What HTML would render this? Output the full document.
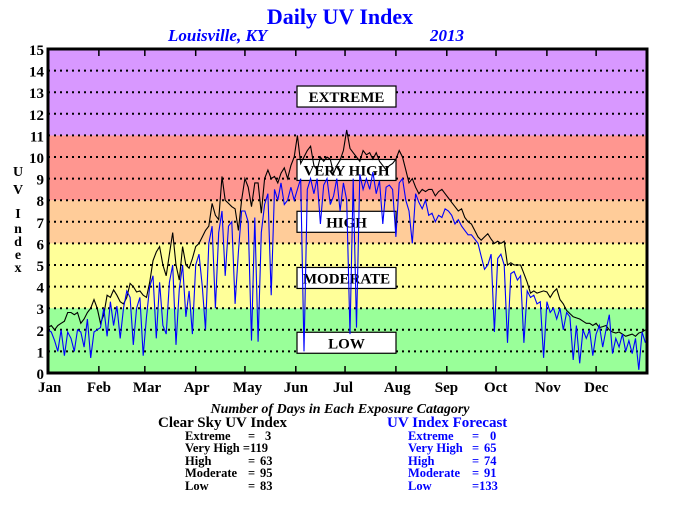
<!DOCTYPE html>
<html><head><meta charset="utf-8"><style>
body{margin:0;background:#fff;}
svg text{font-family:"Liberation Serif",serif;font-weight:bold;}
</style></head><body>
<svg width="680" height="500" viewBox="0 0 680 500" xmlns="http://www.w3.org/2000/svg">
<text x="340" y="24" text-anchor="middle" font-size="22" fill="#0000ff">Daily UV Index</text>
<text x="168" y="41" font-size="17" font-style="italic" fill="#0000ff">Louisville, KY</text>
<text x="430" y="41" font-size="17" font-style="italic" fill="#0000ff">2013</text>
<g id="bands"></g>
<g id="grid"></g>
<g id="boxes"></g>
<g id="series"></g>
<g id="axes"></g>
<g font-size="14">
<text x="18" y="176" text-anchor="middle">U</text>
<text x="18" y="194" text-anchor="middle">V</text>
<text x="18" y="218" text-anchor="middle">I</text>
<text x="18" y="233" text-anchor="middle">n</text>
<text x="18" y="246" text-anchor="middle">d</text>
<text x="18" y="259" text-anchor="middle">e</text>
<text x="18" y="272" text-anchor="middle">x</text>
</g>
<text x="340" y="413" text-anchor="middle" font-size="14" font-style="italic">Number of Days in Each Exposure Catagory</text>
<g>
<text x="158" y="427" font-size="15">Clear Sky UV Index</text>
<g font-size="12.5">
<text x="185" y="440">Extreme</text><text x="248" y="440">=</text><text x="265" y="440">3</text>
<text x="185" y="452">Very High =119</text>
<text x="185" y="465">High</text><text x="248" y="465">=</text><text x="260" y="465">63</text>
<text x="185" y="477">Moderate</text><text x="248" y="477">=</text><text x="260" y="477">95</text>
<text x="185" y="490">Low</text><text x="248" y="490">=</text><text x="260" y="490">83</text>
</g></g>
<g fill="#0000ff">
<text x="387" y="427" font-size="15">UV Index Forecast</text>
<g font-size="12.5">
<text x="408" y="440">Extreme</text><text x="472" y="440">=</text><text x="490" y="440">0</text>
<text x="408" y="452">Very High</text><text x="472" y="452">=</text><text x="484" y="452">65</text>
<text x="408" y="465">High</text><text x="472" y="465">=</text><text x="484" y="465">74</text>
<text x="408" y="477">Moderate</text><text x="472" y="477">=</text><text x="484" y="477">91</text>
<text x="408" y="490">Low</text><text x="472" y="490">=133</text>
</g></g>
</svg>
<script>
const clearSky=[2.1,2.2,2.0,2.2,2.3,2.4,
2.8,2.8,2.7,2.8,2.3,2.5,2.8,3.0,3.4,3.0,
2.3,2.7,3.6,3.5,3.85,3.6,3.3,3.2,3.5,4.15,4.0,3.75,3.8,3.6,
3.5,4.2,5.2,5.6,5.85,5.0,4.5,5.5,6.5,5.0,4.3,5.85,5.0,4.85,5.3,
5.85,6.0,6.3,6.6,6.8,7.85,7.3,7.1,9.1,8.0,7.85,7.7,7.6,6.6,8.0,
9.0,8.6,7.7,8.8,8.8,7.4,9.0,9.4,9.0,9.1,8.8,9.25,9.5,9.0,9.6,
10.0,11.0,9.7,10.0,10.3,10.5,9.6,9.4,10.0,9.8,10.0,9.9,9.25,9.6,9.85,
10.3,11.25,10.4,10.2,10.0,9.8,10.3,10.1,10.2,9.9,10.2,9.8,9.6,9.4,9.6,
9.7,9.9,10.3,10.0,9.4,8.8,9.0,8.6,8.3,8.5,8.4,8.5,8.5,8.2,8.4,
8.5,8.3,8.1,7.9,7.7,7.5,7.6,7.2,7.0,6.9,6.6,6.3,6.15,6.3,6.45,
6.2,6.0,6.1,6.0,6.1,5.0,5.1,5.0,5.0,5.0,4.6,4.2,3.7,3.8,3.7,
3.75,3.8,3.75,3.5,3.75,3.9,3.4,3.2,2.9,2.75,2.6,2.55,2.5,2.4,2.3,
2.3,2.2,2.3,2.1,2.15,2.2,2.0,1.9,1.85,1.9,1.8,1.7,1.75,1.8,1.7,1.85,1.9,2.0];
const forecast=[2.0,1.9,1.5,1.0,2.0,0.8,1.9,1.6,1.0,2.0,1.9,1.2,2.5,0.7,1.9,2.0,
2.1,3.0,1.7,3.3,2.2,3.1,1.6,3.0,3.8,3.5,1.3,3.0,3.5,0.8,
2.6,4.0,4.5,1.6,4.2,2.2,1.8,4.2,5.0,1.3,3.9,5.0,2.6,3.8,1.8,
5.0,5.5,4.0,2.0,6.0,6.8,3.0,6.5,7.5,4.5,6.8,7.0,3.2,5.6,7.5,
7.5,7.0,1.5,7.2,1.45,6.5,7.8,8.3,3.6,8.5,8.0,8.8,7.8,8.0,8.6,
8.0,8.5,9.0,1.0,8.5,9.0,8.3,9.0,6.9,8.7,9.0,7.8,8.2,9.0,7.5,
8.8,8.0,1.8,9.0,2.1,9.2,8.5,9.0,8.5,9.3,8.3,8.9,6.9,8.6,8.7,
8.5,6.3,8.8,9.0,8.0,7.5,6.0,8.3,7.9,7.6,8.0,7.3,7.4,7.0,7.3,
7.2,7.6,7.5,7.3,6.9,7.1,6.8,6.6,6.4,6.4,6.2,6.0,5.4,4.8,5.0,
5.5,1.9,5.3,5.5,5.0,1.4,4.6,4.7,4.3,4.5,1.4,3.8,3.5,3.6,3.2,
3.3,0.7,3.3,2.8,3.0,2.5,3.0,2.0,2.8,2.6,0.6,2.2,0.45,2.0,1.6,
2.0,0.8,1.8,2.2,1.2,2.0,2.7,0.9,1.6,1.2,1.8,1.0,1.5,0.9,1.6,0.15,1.9,1.4];
const dayStep=2;
const months=["Jan","Feb","Mar","Apr","May","Jun","Jul","Aug","Sep","Oct","Nov","Dec"];
const monthStart=[0,31,59,90,120,151,181,212,243,273,304,334];
const yTicks=[0,1,2,3,4,5,6,7,8,9,10,11,12,13,14,15];
const bandNames=["low","moderate","high","very-high","extreme"];
const bandLo=[0,3,6,8,11];
const bandHi=[3,6,8,11,15];
const bandLabels=["LOW","MODERATE","HIGH","VERY HIGH","EXTREME"];
const bandLabelVal=[1.4,4.4,7.0,9.4,12.8];
const bandColors=["#99ff99","#ffff99","#ffcc99","#ff9690","#d898ff"];

const NS="http://www.w3.org/2000/svg";
const L=48,R=647,T=49,B=373;
const xs=d=>L+d*(R-L)/365;
const ys=v=>B-v*(B-T)/15;
function mk(p,tag,a){const e=document.createElementNS(NS,tag);for(const k in a)e.setAttribute(k,a[k]);p.appendChild(e);return e;}
const gB=document.getElementById('bands'),gG=document.getElementById('grid'),gX=document.getElementById('boxes'),gS=document.getElementById('series'),gA=document.getElementById('axes');
bandLo.forEach((lo,i)=>{
 const r=mk(gB,'rect',{x:L,y:ys(bandHi[i]),width:R-L,height:ys(lo)-ys(bandHi[i]),fill:bandColors[i]});
 
 
});
yTicks.forEach(v=>{
 if(v>0&&v<15){const l=mk(gG,'line',{x1:L,x2:R,y1:ys(v),y2:ys(v),stroke:'#000','stroke-width':2,'stroke-dasharray':'2,4'});
 
 }
 const t=mk(gA,'text',{x:44,y:ys(v)+6,'text-anchor':'end','font-size':15});
 t.textContent=v;
 
 
});
bandLabels.forEach((s,i)=>{
 const g=mk(gX,'g',{});
 
 
 const cy=ys(bandLabelVal[i]);
 mk(g,'rect',{x:297,y:cy-10.5,width:99,height:21,fill:'#fff',stroke:'#000','stroke-width':1.2});
 const t=mk(g,'text',{x:346.5,y:cy+5.5,'text-anchor':'middle','font-size':15});
 t.textContent=s;
});
function path(vals,color,name){
 let d='';vals.forEach((v,i)=>{d+=(i?'L':'M')+xs(i*dayStep).toFixed(1)+','+ys(v).toFixed(1);});
 const p=mk(gS,'path',{d:d,fill:'none',stroke:color,'stroke-width':1.1});
 
 
}
path(clearSky,'#000','clear-sky-line');
path(forecast,'#0000ff','forecast-line');
const frame=mk(gA,'rect',{x:L,y:T,width:R-L,height:B-T,fill:'none',stroke:'#000','stroke-width':3});


months.forEach((m,i)=>{
 const x=xs(monthStart[i]);
 if(i>0){mk(gA,'line',{x1:x,x2:x,y1:T,y2:T+7,stroke:'#000','stroke-width':1.5});
 mk(gA,'line',{x1:x,x2:x,y1:B,y2:B-7,stroke:'#000','stroke-width':1.5});}
 const t=mk(gA,'text',{x:x-10+(i==0?0:-2),y:392,'font-size':15});
 t.textContent=m;
 
 
});
</script>
</body></html>
